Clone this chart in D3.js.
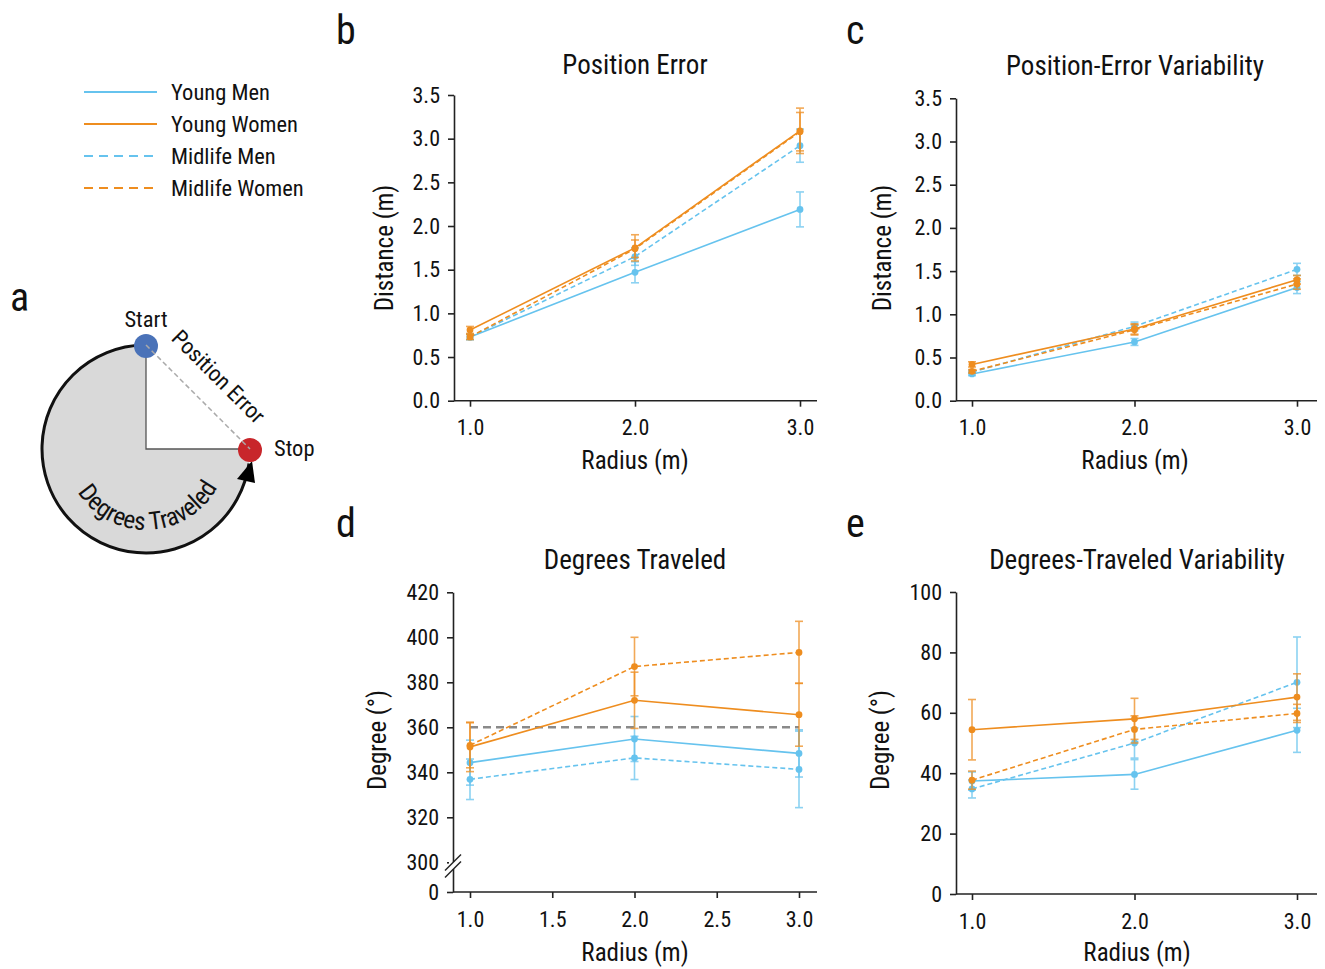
<!DOCTYPE html>
<html>
<head>
<meta charset="utf-8">
<script src="https://cdn.jsdelivr.net/npm/d3@7"></script>
<style>
  body { margin: 0; background: #fff; }
  svg text { font-family: "Liberation Sans Narrow", "Roboto", sans-serif; font-stretch: condensed; fill: #111; }
</style>
</head>
<body>
<div class="chart"></div>
<script>
// ---- data ----
var groupNames = ["Young Men", "Young Women", "Midlife Men", "Midlife Women"];
var groupColors = ["#66c3ee", "#ee8d1f", "#66c3ee", "#ee8d1f"];
var groupDashed = [false, false, true, true];
var radii = [1, 2, 3];

// b: position error (m)
var posErrMean = [[0.73, 1.47, 2.19], [0.81, 1.75, 3.09], [0.73, 1.65, 2.92], [0.73, 1.74, 3.08]];
var posErrSE = [[0.03, 0.12, 0.20], [0.04, 0.15, 0.26], [0.03, 0.10, 0.19], [0.03, 0.10, 0.22]];
// c: position-error variability (m)
var posVarMean = [[0.31, 0.68, 1.31], [0.42, 0.83, 1.40], [0.33, 0.86, 1.52], [0.34, 0.82, 1.35]];
var posVarSE = [[0.02, 0.04, 0.07], [0.03, 0.06, 0.05], [0.02, 0.05, 0.07], [0.02, 0.06, 0.06]];
// d: degrees traveled
var degMean = [[344.3, 354.8, 348.4], [351.3, 372.0, 365.6], [336.9, 346.4, 341.3], [352.0, 387.0, 393.3]];
var degSE = [[10, 10, 10.5], [11, 12.5, 14], [9, 9.6, 17], [10, 13, 13.8]];
// e: degrees-traveled variability
var degVarMean = [[37.4, 39.6, 54.2], [54.4, 58.0, 65.2], [34.8, 50.0, 70.1], [37.7, 54.5, 59.8]];
var degVarSE = [[3, 4.9, 7.3], [10, 6.8, 7.7], [3, 5, 15], [3, 4.5, 3]];

var posTicks = [0, 0.5, 1, 1.5, 2, 2.5, 3, 3.5];
var degTicks = [0, 300, 320, 340, 360, 380, 400, 420];
var degVarTicks = [0, 20, 40, 60, 80, 100];
var radiusTicks = [1, 2, 3];
var radiusTicksHalf = [1, 1.5, 2, 2.5, 3];

var svg = d3.select(".chart").append("svg")
  .attr("width", 1325)
  .attr("height", 969);

// draws one line panel
function drawPanel(p) {
  var g = svg.append("g");
  var x = d3.scaleLinear().domain([1, 3]).range([p.x0, p.x1]);
  var y = d3.scaleLinear().domain(p.yDomain).range(p.yRange);

  // axes
  var yAxis = d3.axisLeft(y).tickValues(p.yTicks).tickSize(6).tickSizeOuter(0)
    .tickFormat(p.yFormat);
  var yg = g.append("g").attr("transform", `translate(${p.left},0)`).call(yAxis);
  var xAxis = d3.axisBottom(x).tickValues(p.xTicks).tickSize(6).tickFormat(d3.format(".1f"));
  var xg = g.append("g").attr("transform", `translate(0,${p.bottom})`).call(xAxis);
  xg.select(".domain").remove();
  g.append("line")
    .attr("x1", p.left).attr("x2", p.right)
    .attr("y1", p.bottom).attr("y2", p.bottom)
    .attr("stroke", "#222").attr("stroke-width", 1.6);
  [yg, xg].forEach(function(a) {
    a.selectAll("path, line").attr("stroke", "#222").attr("stroke-width", 1.6);
    a.selectAll("text").style("font-size", "22px").attr("fill", "#111");
  });
  yg.selectAll("text").attr("x", -14);
  xg.selectAll("text").attr("y", 19);

  if (p.refLine != null) {
    g.append("line")
      .attr("x1", x(1)).attr("x2", x(3))
      .attr("y1", y(p.refLine)).attr("y2", y(p.refLine))
      .attr("stroke", "#8a8a8a").attr("stroke-width", 2.5)
      .attr("stroke-dasharray", "8,5");
  }

  var order = [0, 2, 3, 1];
  order.forEach(function(gi) {
    var pts = radii.map(function(r, i) {
      return { r: r, m: p.mean[gi][i], se: p.se[gi][i] };
    });
    var c = groupColors[gi];
    var eb = g.append("g").attr("stroke", c).attr("stroke-width", 1.6).attr("opacity", 0.75);
    pts.forEach(function(d) {
      eb.append("line").attr("x1", x(d.r)).attr("x2", x(d.r))
        .attr("y1", y(d.m - d.se)).attr("y2", y(d.m + d.se));
      [d.m - d.se, d.m + d.se].forEach(function(v) {
        eb.append("line").attr("x1", x(d.r) - 4).attr("x2", x(d.r) + 4)
          .attr("y1", y(v)).attr("y2", y(v));
      });
    });
    var line = d3.line().x(d => x(d.r)).y(d => y(d.m));
    g.append("path").datum(pts)
      .attr("d", line)
      .attr("fill", "none")
      .attr("stroke", c)
      .attr("stroke-width", 1.6)
      .attr("stroke-dasharray", groupDashed[gi] ? "5,3" : null);
    g.selectAll(null).data(pts).enter().append("circle")
      .attr("cx", d => x(d.r)).attr("cy", d => y(d.m))
      .attr("r", 3.4).attr("fill", c);
  });

  // labels
  svg.append("text").attr("x", p.letterX).attr("y", p.letterY).text(p.letter)
    .style("font-size", "40px");
  svg.append("text").attr("x", p.titleX).attr("y", p.titleY).text(p.title)
    .attr("text-anchor", "middle").style("font-size", "27px");
  svg.append("text").attr("x", p.titleX).attr("y", p.xLabelY).text("Radius (m)")
    .attr("text-anchor", "middle").style("font-size", "25px");
  svg.append("text")
    .attr("transform", `translate(${p.yLabelX},${p.yLabelY}) rotate(-90)`)
    .attr("text-anchor", "middle").style("font-size", "25px").text(p.yLabel);
  return { g: g, x: x, y: y };
}

drawPanel({
  letter: "b", letterX: 336, letterY: 44, title: "Position Error", titleX: 635, titleY: 74,
  left: 454, right: 817, bottom: 400.7, x0: 470, x1: 800,
  yDomain: [0, 3.5], yRange: [400.7, 95], yTicks: posTicks, yFormat: d3.format(".1f"),
  xTicks: radiusTicks, mean: posErrMean, se: posErrSE,
  xLabelY: 469, yLabel: "Distance (m)", yLabelX: 393, yLabelY: 248
});

drawPanel({
  letter: "c", letterX: 846, letterY: 44, title: "Position-Error Variability", titleX: 1135, titleY: 75,
  left: 956, right: 1317, bottom: 400.7, x0: 972, x1: 1297,
  yDomain: [0, 3.5], yRange: [400.7, 98.3], yTicks: posTicks, yFormat: d3.format(".1f"),
  xTicks: radiusTicks, mean: posVarMean, se: posVarSE,
  xLabelY: 469, yLabel: "Distance (m)", yLabelX: 891, yLabelY: 248
});

var pd = drawPanel({
  letter: "d", letterX: 336, letterY: 537, title: "Degrees Traveled", titleX: 635, titleY: 569,
  left: 453, right: 817, bottom: 892, x0: 470, x1: 799,
  yDomain: [0, 300, 420], yRange: [892, 862.3, 592.3], yTicks: degTicks, yFormat: d3.format("d"),
  xTicks: radiusTicksHalf, mean: degMean, se: degSE, refLine: 360,
  xLabelY: 961, yLabel: "Degree (°)", yLabelX: 386, yLabelY: 740
});
// axis break marks on panel d
(function() {
  var yb = 866;
  var brk = svg.append("g");
  brk.append("rect").attr("x", 449).attr("y", yb - 4).attr("width", 8).attr("height", 7).attr("fill", "#fff");
  [-3.5, 3.5].forEach(function(o) {
    brk.append("line")
      .attr("x1", 445).attr("y1", yb + o + 8)
      .attr("x2", 461).attr("y2", yb + o - 8)
      .attr("stroke", "#222").attr("stroke-width", 1.4);
  });
})();

drawPanel({
  letter: "e", letterX: 846, letterY: 537, title: "Degrees-Traveled Variability", titleX: 1137, titleY: 569,
  left: 956, right: 1317, bottom: 894, x0: 972, x1: 1297,
  yDomain: [0, 100], yRange: [894, 592], yTicks: degVarTicks, yFormat: d3.format("d"),
  xTicks: radiusTicks, mean: degVarMean, se: degVarSE,
  xLabelY: 961, yLabel: "Degree (°)", yLabelX: 889, yLabelY: 740
});

// legend
var legend = svg.append("g");
groupNames.forEach(function(name, i) {
  var ly = 92 + i * 32;
  legend.append("line").attr("x1", 84).attr("x2", 157).attr("y1", ly).attr("y2", ly)
    .attr("stroke", groupColors[i]).attr("stroke-width", 2)
    .attr("stroke-dasharray", groupDashed[i] ? "9,6" : null);
  legend.append("text").attr("x", 171).attr("y", ly + 8).text(name).style("font-size", "22.5px");
});

// panel a: schematic
(function() {
  var cx = 146, cy = 449, R = 104;
  var a = svg.append("g");
  svg.append("text").attr("x", 10).attr("y", 311).text("a").style("font-size", "40px");
  // gray 270 degree sector
  var sector = d3.arc().innerRadius(0).outerRadius(R)
    .startAngle(Math.PI / 2).endAngle(2 * Math.PI);
  a.append("path").attr("transform", `translate(${cx},${cy})`)
    .attr("d", sector()).attr("fill", "#d9d9d9");
  // radii
  a.append("path").attr("d", `M${cx},${cy - R + 4}L${cx},${cy}L${cx + R - 2},${cy}`)
    .attr("fill", "none").attr("stroke", "#555").attr("stroke-width", 1.3);
  // traveled arc
  var arcPath = d3.arc().innerRadius(R).outerRadius(R)
    .startAngle(-0.02).endAngle(-1.5 * Math.PI + 0.14);
  a.append("path").attr("transform", `translate(${cx},${cy})`)
    .attr("d", arcPath()).attr("fill", "none").attr("stroke", "#111").attr("stroke-width", 3);
  // arrow head
  a.append("path").attr("d", "M237,479 L255,483 L252,461 Z").attr("fill", "#000");
  // dashed position error
  a.append("circle").attr("cx", cx).attr("cy", cy - R + 1).attr("r", 12).attr("fill", "#4a72b8");
  a.append("circle").attr("cx", cx + R).attr("cy", cy + 1).attr("r", 12).attr("fill", "#c8262b");
  a.append("line").attr("x1", cx).attr("y1", cy - R).attr("x2", cx + R).attr("y2", cy)
    .attr("stroke", "#aaa").attr("stroke-width", 1.5).attr("stroke-dasharray", "5,3");

  a.append("text").attr("x", cx).attr("y", 327).attr("text-anchor", "middle").text("Start").style("font-size", "22.5px");
  a.append("text").attr("x", 274).attr("y", 456).text("Stop").style("font-size", "22.5px");
  a.append("text")
    .attr("transform", `translate(213,382) rotate(45)`)
    .attr("text-anchor", "middle").text("Position Error").style("font-size", "22.5px");
  // curved label
  var rt = 81;
  var a0 = 170 * Math.PI / 180, a1 = 6 * Math.PI / 180;
  a.append("path").attr("id", "travelPath")
    .attr("d", `M${cx + rt * Math.cos(a0)},${cy + rt * Math.sin(a0)} A${rt},${rt} 0 0 0 ${cx + rt * Math.cos(a1)},${cy + rt * Math.sin(a1)}`)
    .attr("fill", "none");
  a.append("text").style("font-size", "25px")
    .append("textPath").attr("href", "#travelPath").attr("startOffset", "50%")
    .attr("text-anchor", "middle").text("Degrees Traveled");
})();
</script>
</body>
</html>
